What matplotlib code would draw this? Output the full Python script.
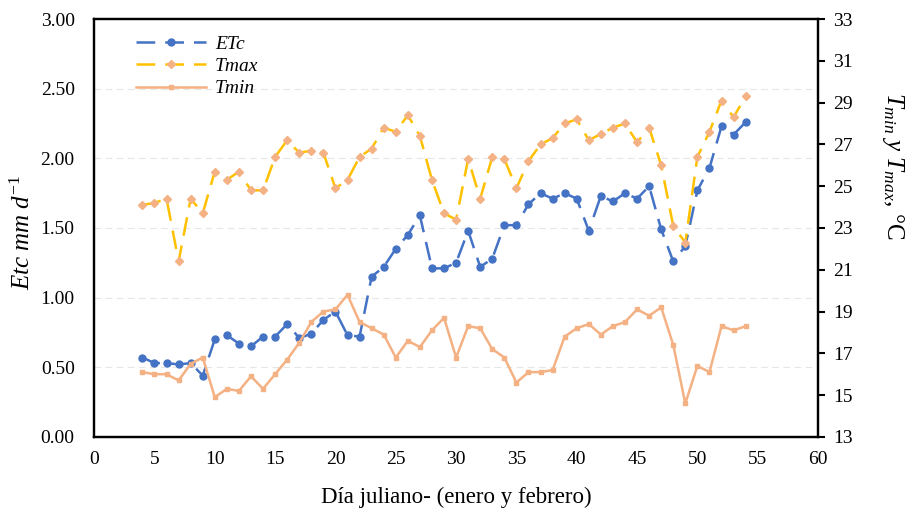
import matplotlib
matplotlib.use('Agg')
import matplotlib.pyplot as plt

plt.rcParams['font.family'] = ['Liberation Serif', 'DejaVu Serif']
plt.rcParams['mathtext.fontset'] = 'custom'
plt.rcParams['mathtext.rm'] = 'Liberation Serif'
plt.rcParams['mathtext.it'] = 'Liberation Serif:italic'

# Julian days (January and February)
days = list(range(4, 55))

# ETc, mm/day (left axis)
etc = [0.57, 0.53, 0.53, 0.52, 0.53, 0.44, 0.70, 0.73, 0.67, 0.65,
       0.72, 0.72, 0.81, 0.71, 0.74, 0.84, 0.90, 0.73, 0.72, 1.15,
       1.22, 1.35, 1.45, 1.59, 1.21, 1.21, 1.25, 1.48, 1.22, 1.28,
       1.52, 1.52, 1.67, 1.75, 1.71, 1.75, 1.71, 1.48, 1.73, 1.69,
       1.75, 1.71, 1.80, 1.49, 1.26, 1.37, 1.77, 1.93, 2.23, 2.17,
       2.26]

# Max temperature, deg C (right axis)
tmax = [24.1, 24.2, 24.4, 21.4, 24.4, 23.7, 25.7, 25.3, 25.7, 24.8,
        24.8, 26.4, 27.2, 26.6, 26.7, 26.6, 24.9, 25.3, 26.4, 26.8,
        27.8, 27.6, 28.4, 27.4, 25.3, 23.7, 23.4, 26.3, 24.4, 26.4,
        26.3, 24.9, 26.2, 27.0, 27.3, 28.0, 28.2, 27.2, 27.5, 27.8,
        28.0, 27.1, 27.8, 26.0, 23.1, 22.3, 26.4, 27.6, 29.1, 28.3,
        29.3]

# Min temperature, deg C (right axis)
tmin = [16.1, 16.0, 16.0, 15.7, 16.5, 16.8, 14.9, 15.3, 15.2, 15.9,
        15.3, 16.0, 16.7, 17.5, 18.5, 19.0, 19.1, 19.8, 18.5, 18.2,
        17.9, 16.8, 17.6, 17.3, 18.1, 18.7, 16.8, 18.3, 18.2, 17.2,
        16.8, 15.6, 16.1, 16.1, 16.2, 17.8, 18.2, 18.4, 17.9, 18.3,
        18.5, 19.1, 18.8, 19.2, 17.4, 14.6, 16.4, 16.1, 18.3, 18.1,
        18.3]

fig = plt.figure(figsize=(9.14, 5.14), dpi=100)
ax = fig.add_axes([0.103, 0.150, 0.792, 0.813])
ax2 = ax.twinx()

blue = '#4472C4'
gold = '#FFC000'
peach = '#F4B183'

l1, = ax.plot(days, etc, color=blue, lw=1.8, ls=(0, (7.5, 4)),
              marker='o', ms=5, label='ETc')
l2, = ax2.plot(days, tmax, color=gold, lw=1.8, ls=(0, (7.5, 4)),
               marker='D', ms=4, mfc=peach, mec=peach, label='Tmax')
l3, = ax2.plot(days, tmin, color=peach, lw=1.8, ls='-',
               marker='s', ms=2.5, label='Tmin')

ax.set_xlim(0, 60)
ax.set_ylim(0, 3.0)
ax.set_xticks(range(0, 61, 5))
ax.set_yticks([i * 0.5 for i in range(7)])
ax.set_yticklabels([f'{i * 0.5:.2f}' for i in range(7)])
ax.tick_params(axis='x', length=0, labelsize=14, pad=10)
ax.tick_params(axis='y', length=0, labelsize=14, pad=14)
ax.grid(axis='y', color='#e6e6e6', ls=(0, (6, 4)), lw=0.8)
ax.set_axisbelow(True)

ax2.set_ylim(13, 33)
ax2.set_yticks(range(13, 34, 2))
ax2.tick_params(axis='y', length=5, width=1.5, direction='out', labelsize=14, pad=6)

for a in (ax, ax2):
    for s in a.spines.values():
        s.set_linewidth(1.6)
        s.set_color('black')

ax.set_xlabel('Día juliano- (enero y febrero)', fontsize=16.5, labelpad=14)
ax.set_ylabel(r'$Etc\ mm\ d^{-1}$', fontsize=18)
ax.yaxis.set_label_coords(-0.082, 0.49)
ax2.set_ylabel(r'$T_{min}\ y\ T_{max}$, °C', fontsize=18, rotation=270)
ax2.yaxis.set_label_coords(1.122, 0.65)

leg = ax.legend(handles=[l1, l2, l3], loc='upper left', bbox_to_anchor=(0.058, 0.962),
                frameon=False, prop={'style': 'italic', 'size': 14},
                handlelength=3.6, handletextpad=0.45, labelspacing=0.25,
                borderpad=0, borderaxespad=0)

fig.savefig('out.png', dpi=100)
